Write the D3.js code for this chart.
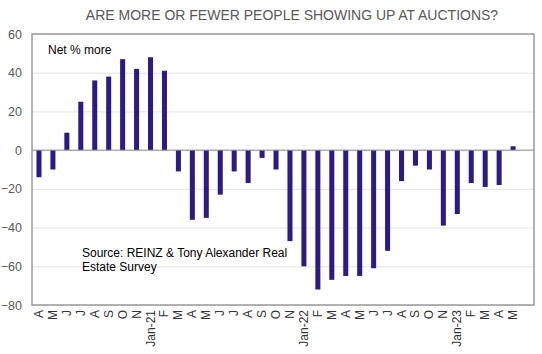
<!DOCTYPE html>
<html>
<head>
<meta charset="utf-8">
<script src="https://cdn.jsdelivr.net/npm/d3@7"></script>
<style>
  body { margin: 0; background: #fff; }
  svg { font-family: "Liberation Sans", Arial, sans-serif; }
</style>
</head>
<body>
<div id="chart"></div>
<script>
// month labels (no December survey), last slot left empty
const months = ["A","M","J","J","A","S","O","N","Jan-21","F",
                "M","A","M","J","J","A","S","O","N","Jan-22",
                "F","M","A","M","J","J","A","S","O","N",
                "Jan-23","F","M","A","M",""];
const netMore = [-14,-10,9,25,36,38,47,42,48,41,
                 -11,-36,-35,-23,-11,-17,-4,-10,-47,-60,
                 -72,-67,-65,-65,-61,-52,-16,-8,-10,-39,
                 -33,-17,-19,-18,2,null];
const yTicks = [-80,-60,-40,-20,0,20,40,60];

const width = 542, height = 354;
const margin = {top: 34, right: 8, bottom: 49, left: 32};

const svg = d3.select("#chart")
  .append("svg")
    .attr("width", width)
    .attr("height", height);

const x = d3.scaleBand()
    .domain(d3.range(months.length))
    .range([margin.left, width - margin.right])
    .paddingInner(0.64)
    .paddingOuter(0.32);

const y = d3.scaleLinear()
    .domain([-80, 60])
    .range([height - margin.bottom, margin.top]);

// gridlines + y labels
const yAxis = svg.append("g")
  .attr("transform", `translate(${margin.left},0)`)
  .call(d3.axisLeft(y).tickValues(yTicks)
        .tickSize(-(width - margin.left - margin.right))
        .tickPadding(10));
yAxis.select(".domain").remove();
yAxis.selectAll(".tick line")
  .attr("stroke", "#e3e3e3")
  .attr("stroke-width", 1);
yAxis.selectAll(".tick text")
  .attr("fill", "#595959")
  .style("font-size", "12.5px");

// bars
svg.append("g")
  .selectAll("rect")
  .data(netMore.map((v, i) => ({i, v})).filter(d => d.v !== null))
  .join("rect")
    .attr("x", d => x(d.i))
    .attr("width", x.bandwidth())
    .attr("y", d => y(Math.max(0, d.v)))
    .attr("height", d => Math.abs(y(d.v) - y(0)))
    .attr("fill", "#2d1a86");

// zero line
svg.append("line")
  .attr("x1", margin.left).attr("x2", width - margin.right)
  .attr("y1", y(0)).attr("y2", y(0))
  .attr("stroke", "#8c8c8c");

// plot frame
svg.append("rect")
  .attr("x", margin.left).attr("y", margin.top)
  .attr("width", width - margin.left - margin.right)
  .attr("height", height - margin.top - margin.bottom)
  .attr("fill", "none")
  .attr("stroke", "#9a9a9a")
  .attr("stroke-width", 1.5);

// rotated month labels
svg.append("g")
  .selectAll("text")
  .data(months)
  .join("text")
    .attr("transform", (d, i) => `translate(${x(i) + x.bandwidth() / 2 + 4},${height - margin.bottom + 5}) rotate(-90)`)
    .attr("text-anchor", "end")
    .attr("fill", "#333")
    .style("font-size", "12px")
    .text(d => d);

// title
svg.append("text")
  .attr("x", 292).attr("y", 20)
  .attr("text-anchor", "middle")
  .attr("fill", "#595959")
  .style("font-size", "14px")
  .text("ARE MORE OR FEWER PEOPLE SHOWING UP AT AUCTIONS?");

svg.append("text")
  .attr("x", 48).attr("y", 54)
  .style("font-size", "12px")
  .text("Net % more");

svg.append("text")
  .attr("x", 82).attr("y", 257)
  .style("font-size", "12px")
  .text("Source: REINZ & Tony Alexander Real");
svg.append("text")
  .attr("x", 82).attr("y", 271)
  .style("font-size", "12px")
  .text("Estate Survey");
</script>
</body>
</html>
